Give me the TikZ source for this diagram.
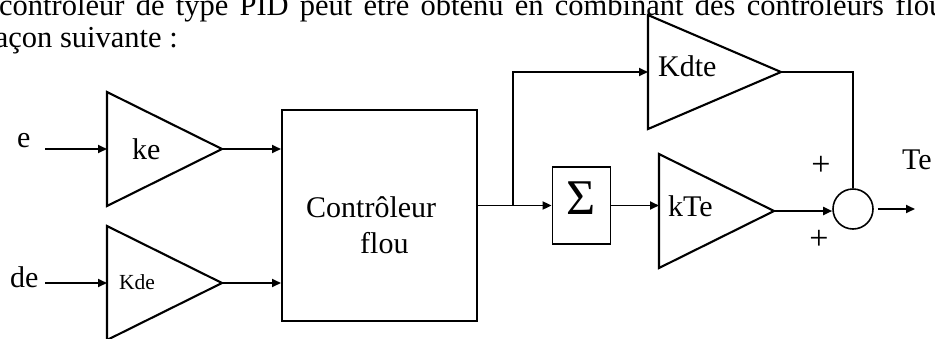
\documentclass[tikz,border=0pt]{standalone}
\usepackage{fontspec}
\setmainfont{Liberation Serif}
\usetikzlibrary{arrows.meta}

\tikzset{
  wire/.style={line width=1.8pt},
  sig/.style={wire,-{Triangle[length=9pt,width=8pt]}},
  gain/.style={line width=2.1pt,line join=miter},
  lbl/.style={inner sep=0pt,anchor=base west,font=\fontsize{30}{36}\selectfont},
  sign/.style={inner sep=0pt,font=\fontsize{34}{40}\selectfont},
  % amplifier triangle: left edge 114 high, apex #1 to the right
  pics/amp/.style={code={
    \draw[gain] (0,-57) -- (#1,0) -- (0,57) -- cycle;
    \coordinate (-in) at (0,0);
    \coordinate (-out) at (#1,0);
  }},
}

\begin{document}
\begin{tikzpicture}[x=1pt,y=-1pt]
\useasboundingbox (0,0) rectangle (935,338);
\clip (0,0) rectangle (935,338);

% running text above the diagram (justified line: word spaces stretched)
\node[lbl,font=\fontsize{30.5}{36}\selectfont] (intro1) at (-1,15)
  {\hbox to 896pt{contrôleur de type PID peut être obtenu en combinant des contrôleurs }flous};
\node[lbl,anchor=base east,font=\fontsize{30.5}{36}\selectfont] (intro2) at (178,47)
  {façon suivante :};

% gains
\pic (ke)   at (107,149) {amp=115};
\pic (de)   at (107,283) {amp=115};
\pic (kdte) at (648,72)  {amp=133};
\pic (kte)  at (659,211) {amp=115};

\node[lbl] (keT)   at (132,159) {ke};
\node[lbl,font=\fontsize{21.5}{26}\selectfont] (deT) at (119,289) {Kde};
\node[lbl] (kdteT) at (658,76)  {Kdte};
\node[lbl] (kteT)  at (668,216) {kTe};

% fuzzy controller
\node[draw,line width=2pt,minimum width=195pt,minimum height=211pt,inner sep=0pt]
  (fz) at (379.5,215.5) {};
\node[lbl] (fzT1) at (306,217) {Contrôleur};
\node[lbl] (fzT2) at (360,253) {flou};

% integrator
\node[draw,line width=1.8pt,minimum width=58pt,minimum height=77pt,inner sep=0pt,
      text depth=14pt,font=\fontsize{50}{50}\selectfont]
  (sum) at (581.5,205.5) {Σ};

% summing junction
\node[circle,draw,line width=1.6pt,minimum size=40pt,inner sep=0pt] (sj) at (853,209) {};
\node[sign] (p1) at (821,166) {+};
\node[sign] (p2) at (819,240) {+};

% inputs and output
\coordinate (eSrc)  at (45,149);
\coordinate (deSrc) at (45,283);
\coordinate (teOut) at (915,209);
\coordinate (jn)    at (513,205.5);
\node[lbl] (eT)  at (17,147)  {e};
\node[lbl] (deL) at (10,287)  {de};
\node[lbl] (teT) at (902,169) {Te};

% connections
\draw[sig] (eSrc) -- (ke-in);
\draw[sig] (deSrc) -- (de-in);
\draw[sig] (ke-out) -- (ke-out -| fz.west);
\draw[sig] (de-out) -- (de-out -| fz.west);
\draw[sig] (fz.east |- sum.west) -- (sum.west);
\draw[sig] (jn) |- (kdte-in);
\draw[sig] (sum.east) -- (sum.east -| kte-in);
\draw[sig] (kte-out) -- (kte-out -| sj.west);
\draw[wire] (kdte-out) -| (sj.north);
\draw[sig,shorten <=4pt] (sj.east) -- (teOut);
\end{tikzpicture}
\end{document}
